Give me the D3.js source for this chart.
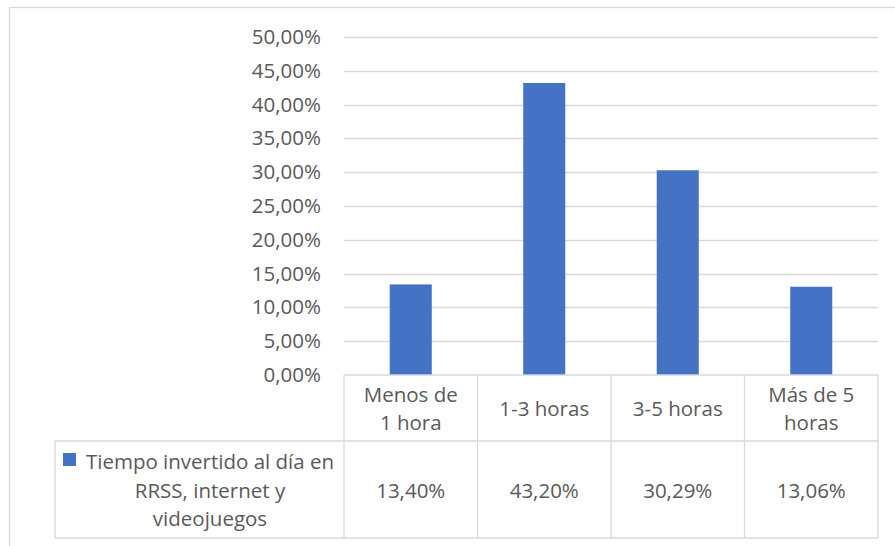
<!DOCTYPE html>
<html lang="es">
<head>
    <meta charset="UTF-8">
    <title>Tiempo invertido al día</title>
    <script src="https://cdn.jsdelivr.net/npm/d3@7/dist/d3.min.js"></script>
    <style>
        body {
            margin: 0;
            background: #fff;
        }

        text {
            font-family: "Open Sans", sans-serif;
            fill: #595959;
        }

        .grid line, .tbl line, .frame {
            stroke: #d9d9d9;
            stroke-width: 1.3;
            fill: none;
        }
    </style>
</head>
<body>

<div id="chartArea"></div>

<script>
    'use strict';

    // Data.
    const categories = ['Menos de 1 hora', '1-3 horas', '3-5 horas', 'Más de 5 horas'];
    // Category labels as they wrap in the table cells.
    const categoryLines = [['Menos de', '1 hora'], ['1-3 horas'], ['3-5 horas'], ['Más de 5', 'horas']];
    const values = [0.1340, 0.4320, 0.3029, 0.1306];
    const valueLabels = ['13,40%', '43,20%', '30,29%', '13,06%'];
    const seriesLines = ['Tiempo invertido al día en', 'RRSS, internet y', 'videojuegos'];
    const yTicks = [0, 0.05, 0.10, 0.15, 0.20, 0.25, 0.30, 0.35, 0.40, 0.45, 0.50];

    const width = 895;
    const height = 546;
    const fontSize = 20.5;

    const plot = { left: 344, right: 878, top: 37, bottom: 375 };
    const rowCat = 441;     // bottom of category row
    const rowVal = 538;     // bottom of value row
    const legendLeft = 55;

    const svg = d3.select('#chartArea').append('svg')
        .attr('width', width)
        .attr('height', height);

    // Chart frame, its right and bottom edges fall outside the picture.
    svg.append('rect').attr('class', 'frame')
        .attr('x', 9.5).attr('y', 7.5)
        .attr('width', width + 10).attr('height', height + 10);

    const x = d3.scaleBand().domain(categories).range([plot.left, plot.right]).padding(0);
    const y = d3.scaleLinear().domain([0, 0.5]).range([plot.bottom, plot.top]);

    const pct = d3.formatLocale({ decimal: ',', thousands: '.', grouping: [3], currency: ['', '€'] }).format('.2%');

    // Gridlines and y labels.
    const grid = svg.append('g').attr('class', 'grid');
    grid.selectAll('line').data(yTicks.slice(1)).enter().append('line')
        .attr('x1', plot.left).attr('x2', plot.right)
        .attr('y1', function (d) { return Math.round(y(d)) + 0.5; })
        .attr('y2', function (d) { return Math.round(y(d)) + 0.5; });

    const yAxis = d3.axisLeft(y).tickValues(yTicks).tickFormat(pct).tickSize(0).tickPadding(0);
    const yg = svg.append('g').attr('transform', 'translate(321,0)').call(yAxis);
    yg.select('.domain').remove();
    yg.selectAll('text')
        .style('font-size', fontSize + 'px')
        .style('font-family', '"Open Sans", sans-serif')
        .attr('fill', '#595959');

    // Bars.
    const barWidth = x.bandwidth() * 0.315;
    svg.selectAll('rect.bar').data(values).enter().append('rect')
        .attr('class', 'bar')
        .attr('fill', '#4472c4')
        .attr('x', function (d, i) { return x(categories[i]) + (x.bandwidth() - barWidth) / 2; })
        .attr('y', function (d) { return y(d); })
        .attr('width', barWidth)
        .attr('height', function (d) { return y(0) - y(d); });

    // Data table.
    const tbl = svg.append('g').attr('class', 'tbl');
    const cols = categories.map(function (c) { return x(c); }).concat([plot.right]);
    tbl.selectAll('line.v').data(cols).enter().append('line')
        .attr('x1', function (d) { return d; }).attr('x2', function (d) { return d; })
        .attr('y1', plot.bottom).attr('y2', rowVal);
    tbl.append('line').attr('x1', plot.left).attr('x2', plot.right).attr('y1', plot.bottom).attr('y2', plot.bottom);
    tbl.append('line').attr('x1', legendLeft).attr('x2', plot.right).attr('y1', rowCat).attr('y2', rowCat);
    tbl.append('line').attr('x1', legendLeft).attr('x2', plot.right).attr('y1', rowVal).attr('y2', rowVal);
    tbl.append('line').attr('x1', legendLeft).attr('x2', legendLeft).attr('y1', rowCat).attr('y2', rowVal);

    const lineH = 28.5;

    function block(cx, cy, lines) {
        const t = svg.append('text')
            .attr('text-anchor', 'middle')
            .style('font-size', fontSize + 'px');
        lines.forEach(function (l, i) {
            t.append('tspan')
                .attr('x', cx)
                .attr('y', cy + (i - (lines.length - 1) / 2) * lineH)
                .attr('dy', '0.35em')
                .text(l);
        });
    }

    categories.forEach(function (c, i) {
        const cx = x(c) + x.bandwidth() / 2;
        block(cx, (plot.bottom + rowCat) / 2 + 1, categoryLines[i]);
        block(cx, (rowCat + rowVal) / 2 + 1, [valueLabels[i]]);
    });

    // Legend key in the table.
    svg.append('rect').attr('fill', '#4472c4')
        .attr('x', 63).attr('y', 453).attr('width', 13).attr('height', 13);
    block(210, (rowCat + rowVal) / 2 + 1, seriesLines);
</script>

</body>
</html>
